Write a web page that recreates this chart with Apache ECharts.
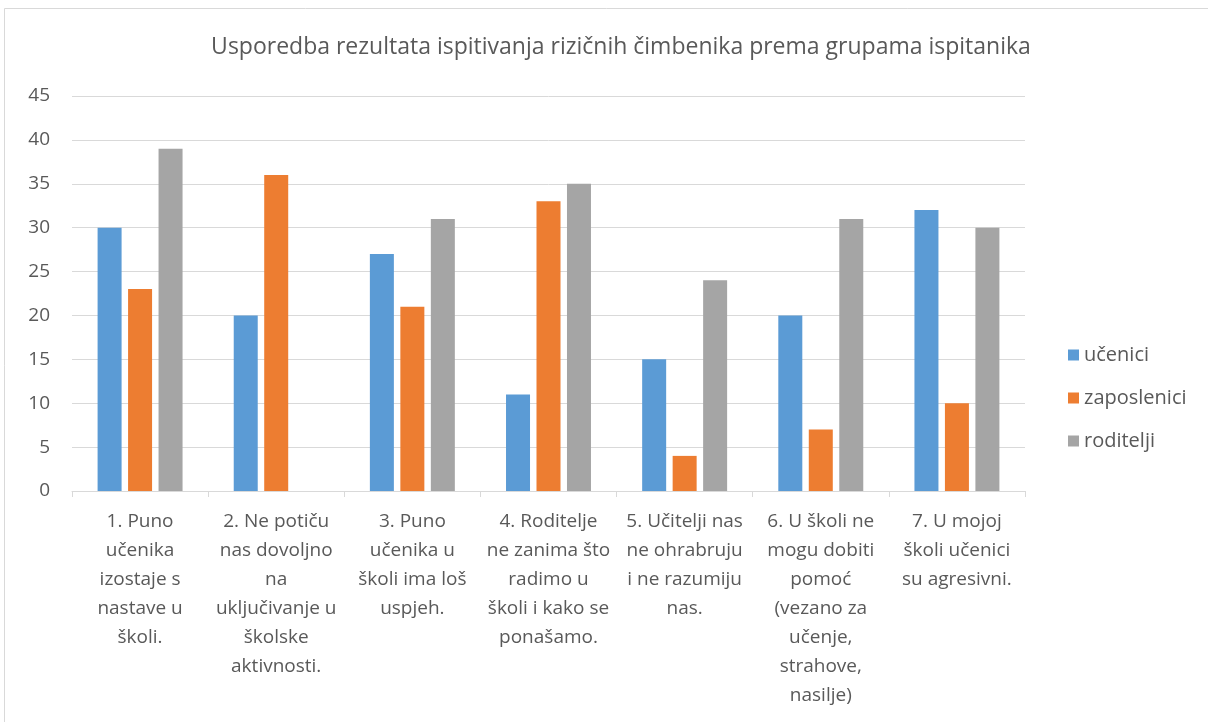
<!DOCTYPE html>
<html>
<head>
<meta charset="utf-8">
<script src="https://cdn.jsdelivr.net/npm/echarts@6/dist/echarts.min.js"></script>
<style>
  html, body { margin: 0; padding: 0; background: #fff; }
  #chart { width: 1208px; height: 722px; }
</style>
</head>
<body>
<div id="chart"></div>
<script>
const categories = [
    "1. Puno\nučenika\nizostaje s\nnastave u\nškoli.",
    "2. Ne potiču\nnas dovoljno\nna\nuključivanje u\nškolske\naktivnosti.",
    "3. Puno\nučenika u\nškoli ima loš\nuspjeh.",
    "4. Roditelje\nne zanima što\nradimo u\nškoli i kako se\nponašamo.",
    "5. Učitelji nas\nne ohrabruju\ni ne razumiju\nnas.",
    "6. U školi ne\nmogu dobiti\npomoć\n(vezano za\nučenje,\nstrahove,\nnasilje)",
    "7. U mojoj\nškoli učenici\nsu agresivni."
];
const ucenici = [30, 20, 27, 11, 15, 20, 32];
const zaposlenici = [23, 36, 21, 33, 4, 7, 10];
const roditelji = [39, null, 31, 35, 24, 31, 30];

const fontFamily = "'Open Sans', 'Noto Sans', sans-serif";
const textColor = "#595959";

const chart = echarts.init(document.getElementById('chart'));
const option = {
    animation: false,
    textStyle: { fontFamily: fontFamily },
    graphic: [
        {
            type: 'rect',
            shape: { x: 4.5, y: 8.5, width: 1220, height: 730 },
            style: { fill: 'none', stroke: '#d9d9d9', lineWidth: 1 },
            silent: true
        }
    ],
    title: {
        text: "Usporedba rezultata ispitivanja rizičnih čimbenika prema grupama ispitanika",
        left: 616,
        textAlign: 'center',
        top: 31,
        textStyle: {
            fontFamily: fontFamily,
            fontSize: 23,
            fontWeight: 'normal',
            color: textColor
        }
    },
    legend: {
        orient: 'vertical',
        left: 1063,
        top: 340,
        itemWidth: 11,
        itemHeight: 11,
        itemGap: 23,
        icon: 'rect',
        textStyle: { fontFamily: fontFamily, fontSize: 20, color: textColor }
    },
    grid: {
        left: 72,
        right: 183,
        top: 96,
        bottom: 231
    },
    xAxis: {
        type: 'category',
        data: categories,
        axisLine: { lineStyle: { color: '#d9d9d9' } },
        axisTick: { show: true, length: 6, lineStyle: { color: '#d9d9d9' } },
        axisLabel: {
            interval: 0,
            margin: 16,
            fontFamily: fontFamily,
            fontSize: 19,
            lineHeight: 29,
            color: textColor,
            align: 'center'
        }
    },
    yAxis: {
        type: 'value',
        min: 0,
        max: 45,
        interval: 5,
        axisLine: { show: false },
        axisTick: { show: false },
        splitLine: { lineStyle: { color: '#d9d9d9' } },
        axisLabel: {
            margin: 22,
            fontFamily: fontFamily,
            fontSize: 19,
            color: textColor
        }
    },
    series: [
        {
            name: "učenici",
            type: 'bar',
            data: ucenici,
            barWidth: 24,
            barGap: '27%',
            itemStyle: { color: '#5b9bd5' }
        },
        {
            name: "zaposlenici",
            type: 'bar',
            data: zaposlenici,
            barWidth: 24,
            barGap: '27%',
            itemStyle: { color: '#ed7d31' }
        },
        {
            name: "roditelji",
            type: 'bar',
            data: roditelji,
            barWidth: 24,
            barGap: '27%',
            itemStyle: { color: '#a5a5a5' }
        }
    ]
};
chart.setOption(option);
</script>
</body>
</html>
